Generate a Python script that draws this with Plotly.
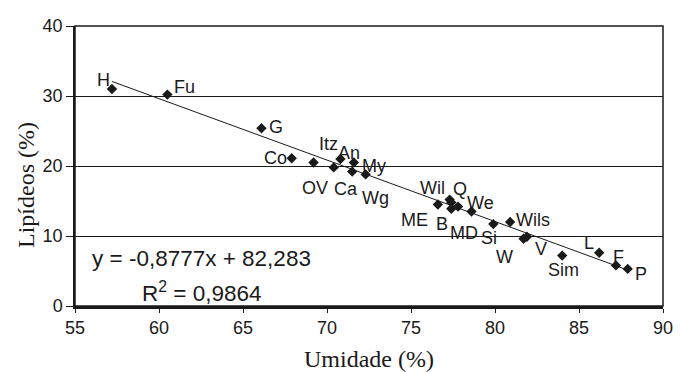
import plotly.graph_objects as go

# ---- data ----
names = ["H", "Fu", "G", "Co", "OV", "Ca", "Itz", "An", "My", "Wg", "ME", "Wil",
         "Q", "B", "MD", "We", "Si", "Wils", "W", "V", "Sim", "L", "F", "P"]
umidade = [57.2, 60.5, 66.1, 67.9, 69.2, 70.4, 70.8, 71.6, 71.5, 72.3, 76.6, 77.3,
           77.4, 77.4, 77.8, 78.6, 79.9, 80.9, 81.7, 81.9, 84.0, 86.2, 87.2, 87.9]
lipideos = [31.0, 30.2, 25.4, 21.1, 20.5, 19.8, 21.0, 20.5, 19.2, 18.8, 14.5, 15.2,
            14.8, 13.9, 14.2, 13.5, 11.7, 12.0, 9.6, 9.9, 7.2, 7.6, 5.8, 5.3]
slope = -0.8777
intercept = 82.283
r2 = 0.9864
x_ticks = [55, 60, 65, 70, 75, 80, 85, 90]
y_ticks = [0, 10, 20, 30, 40]

# label offsets in pixels (dx right, dy down) - style only
label_offsets = {
    "H": (-8, -9), "Fu": (17, -8), "G": (15, -1), "Co": (-16, 0), "OV": (1, 25),
    "Ca": (12, 22), "Itz": (-12, -15), "An": (-5, -10), "My": (22, -6), "Wg": (10, 24),
    "ME": (-23, 15), "Wil": (-17, -12), "Q": (9, -13), "B": (-9, 15), "MD": (6, 26),
    "We": (9, -9), "Si": (-4, 14), "Wils": (23, -2), "W": (-19, 18), "V": (14, 12),
    "Sim": (1, 14), "L": (-10, -10), "F": (3, -8), "P": (13, 5),
}

INK = "#1a1a1a"
SANS = "Liberation Sans, Arial, sans-serif"
SERIF = "Liberation Serif, Times New Roman, serif"

fig = go.Figure()

x0, x1 = min(umidade), max(umidade)
fig.add_trace(go.Scatter(
    x=[x0, x1], y=[slope * x0 + intercept, slope * x1 + intercept],
    mode="lines", line=dict(color=INK, width=1), hoverinfo="skip", showlegend=False))

fig.add_trace(go.Scatter(
    x=umidade, y=lipideos, mode="markers",
    marker=dict(symbol="diamond", size=8, color=INK),
    text=names, showlegend=False))

annotations = []
for n, xv, yv in zip(names, umidade, lipideos):
    dx, dy = label_offsets[n]
    annotations.append(dict(x=xv, y=yv, xref="x", yref="y", text=n, showarrow=False,
                            xshift=dx, yshift=-dy,
                            font=dict(family=SANS, size=18, color=INK)))

eq_text = "y = %sx + %s" % (("%.4f" % slope).replace(".", ","), ("%.3f" % intercept).replace(".", ","))
annotations.append(dict(x=0.2155, y=0.170, xref="paper", yref="paper", text=eq_text,
                        showarrow=False, xanchor="center", yanchor="middle",
                        font=dict(family=SANS, size=22.5, color=INK)))
annotations.append(dict(x=0.2155, y=0.050, xref="paper", yref="paper",
                        text="R<sup>2</sup> = " + ("%.4f" % r2).replace(".", ","),
                        showarrow=False, xanchor="center", yanchor="middle",
                        font=dict(family=SANS, size=22.5, color=INK)))
annotations.append(dict(x=0.5, y=-0.188, xref="paper", yref="paper", text="Umidade (%)",
                        showarrow=False, xanchor="center", yanchor="middle",
                        font=dict(family=SERIF, size=24, color=INK)))
annotations.append(dict(x=-0.0825, y=0.434, xref="paper", yref="paper", text="Lipídeos (%)",
                        showarrow=False, xanchor="center", yanchor="middle", textangle=-90,
                        font=dict(family=SERIF, size=24, color=INK)))

fig.update_layout(
    width=685, height=372, autosize=False,
    margin=dict(l=75, r=16, t=26, b=66),
    paper_bgcolor="white", plot_bgcolor="white",
    annotations=annotations,
    shapes=[dict(type="rect", xref="paper", yref="paper", x0=0, y0=0, x1=1, y1=1,
                 line=dict(color=INK, width=1.5), layer="above")],
    xaxis=dict(range=[55, 90], tickvals=x_ticks, showgrid=False, zeroline=False,
               showline=True, linecolor=INK, linewidth=2.5,
               ticks="outside", ticklen=4, tickcolor=INK, tickwidth=1,
               tickfont=dict(family=SANS, size=18, color=INK)),
    yaxis=dict(range=[0, 40], tickvals=y_ticks, showgrid=True, gridcolor=INK, gridwidth=1,
               zeroline=False, showline=True, linecolor=INK, linewidth=1.5,
               ticks="outside", ticklen=7, tickcolor=INK, tickwidth=1,
               tickfont=dict(family=SANS, size=18, color=INK)),
)

fig.write_html(
    "out.html",
    config={"responsive": False, "displayModeBar": False},
    post_script="document.body.style.margin='0';document.body.style.overflow='hidden';",
)
